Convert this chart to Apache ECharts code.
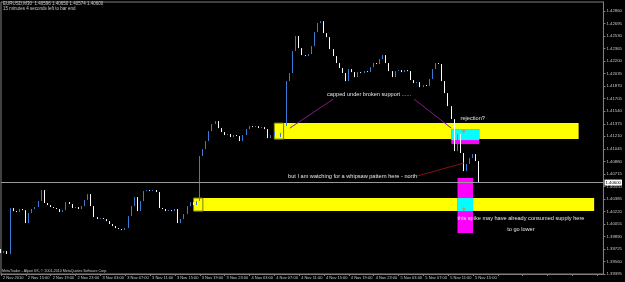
<!DOCTYPE html>
<html>
<head>
<meta charset="utf-8">
<script src="https://cdn.jsdelivr.net/npm/echarts@6/dist/echarts.min.js"></script>
<style>
html, body { margin: 0; padding: 0; background: #000; }
#main { width: 625px; height: 282px; }
</style>
</head>
<body>
<div id="main"></div>
<script>
// EURUSD M30, 2 - 5 Nov 2010 (MetaTrader screenshot)
var firstOpen = 1.39724;
var closes = [
  1.39671, 1.39697, 1.39658, 1.40264, 1.40224, 1.40211, 1.40251, 1.40237, 1.40066, 1.40198,
  1.40251, 1.40277, 1.40356, 1.40501, 1.40330, 1.40303, 1.40277, 1.40264, 1.40251, 1.40211,
  1.40237, 1.40343, 1.40317, 1.40264, 1.40277, 1.40251, 1.40290, 1.40369, 1.40448, 1.40290,
  1.40145, 1.40119, 1.40132, 1.40119, 1.40092, 1.40053, 1.40027, 1.40000, 1.39987, 1.39974,
  1.40000, 1.40158, 1.40290, 1.40409, 1.40224, 1.40356, 1.40488, 1.40501, 1.40488, 1.40501,
  1.40475, 1.40264, 1.40251, 1.40224, 1.40237, 1.40224, 1.40251, 1.40066, 1.40119, 1.40185,
  1.40290, 1.40343, 1.40303, 1.40356, 1.40949, 1.41041, 1.41147, 1.41278, 1.41371, 1.41410,
  1.41318, 1.41265, 1.41226, 1.41239, 1.41199, 1.41226, 1.41213, 1.41147, 1.41226, 1.41305,
  1.41344, 1.41331, 1.41344, 1.41318, 1.41331, 1.41305, 1.41186, 1.41226, 1.41278, 1.41199,
  1.41252, 1.41344, 1.41937, 1.42043, 1.42333, 1.42531, 1.42372, 1.42280, 1.42267, 1.42293,
  1.42399, 1.42583, 1.42702, 1.42728, 1.42570, 1.42517, 1.42359, 1.42267, 1.42175, 1.42109,
  1.42043, 1.41937, 1.42096, 1.42056, 1.41990, 1.42056, 1.42043, 1.42069, 1.42056, 1.42122,
  1.42175, 1.42162, 1.42227, 1.42280, 1.42175, 1.42069, 1.41990, 1.42069, 1.42082, 1.42056,
  1.42082, 1.42069, 1.41951, 1.41911, 1.41924, 1.41858, 1.41885, 1.41872, 1.41964, 1.42096,
  1.42175, 1.42162, 1.41937, 1.41779, 1.41608, 1.41437, 1.41015, 1.41239, 1.40989, 1.40751,
  1.40844, 1.40923, 1.40975, 1.40883, 1.40600
];
var xLabels = ['2 Nov 2010', '2 Nov 15:00', '2 Nov 19:00', '2 Nov 23:00', '3 Nov 03:00',
  '3 Nov 07:00', '3 Nov 11:00', '3 Nov 15:00', '3 Nov 19:00', '3 Nov 23:00', '4 Nov 03:00',
  '4 Nov 07:00', '4 Nov 11:00', '4 Nov 15:00', '4 Nov 19:00', '4 Nov 23:00', '5 Nov 03:00',
  '5 Nov 07:00', '5 Nov 11:00', '5 Nov 15:00'];
var barSlots = 195;   // bars that fit on screen (chart shift leaves room on the right)
var yMin = 1.39395, yStep = 0.00165, yMax = 1.4298;
var bid = 1.40600;

// drawn objects: [fromBar, toBar, priceTop, priceBottom]
var boxes = [
  [87.9, 186.0, 1.41384, 1.41173],
  [87.9, 91.1, 1.41384, 1.41173],
  [61.8, 190.8, 1.40396, 1.40224],
  [61.8, 65.0, 1.40396, 1.40224],
  [145.3, 153.6, 1.41305, 1.41107],
  [145.3, 153.6, 1.41305, 1.41160],
  [146.9, 152.0, 1.40659, 1.39934],
  [146.9, 152.0, 1.40396, 1.40224]
];
var boxColors = ['#ffff00', '#ffff00', '#ffff00', '#ffff00', '#ff00ff', '#00ffff', '#ff00ff', '#00ffff'];
var boxBorders = [null, '#808000', null, '#808000', null, null, null, null];

// trend lines: [fromBar, fromPrice, toBar, toPrice]
var lines = [
  [93.0, 1.41318, 107.0, 1.41700],
  [132.8, 1.41700, 145.3, 1.41318],
  [134.4, 1.40686, 149.4, 1.40857]
];
var lineColors = ['#8b1a8b', '#8b1a8b', '#8b1010'];

// text labels: [bar, price]
var notes = [[104.8, 1.41766], [147.8, 1.41450], [134.1, 1.40686], [147.2, 1.40132], [163.1, 1.39987]];
var noteTexts = ['capped under broken support ......', 'rejection?',
  'but I am watching for a whipsaw pattern here - north',
  'this spike may have already consumed supply here', 'to go lower'];
var noteAlign = ['left', 'left', 'right', 'left', 'left'];

var arrows = [[148.8, 1.41278], [148.8, 1.40251]];

var cats = [];
for (var i = 0; i < barSlots; i++) cats.push(String(i));

var candles = closes.map(function (c, i) {
  var o = i ? closes[i - 1] : firstOpen;
  return [o, c, Math.min(o, c), Math.max(o, c)];
});

var myChart = echarts.init(document.getElementById('main'));

var option = {
  backgroundColor: '#000',
  animation: false,
  graphic: [
    { type: 'text', left: 3, top: 1, style: { text: 'EURUSD,M30  1.40596 1.40650 1.40574 1.40600', fill: '#c8c8c8', font: '4.5px "Liberation Sans"' } },
    { type: 'text', left: 3, top: 6, style: { text: '15 minutes 4 seconds left to bar end', fill: '#c8c8c8', font: '4.5px "Liberation Sans"' } },
    { type: 'text', left: 2, top: 269, style: { text: 'MetaTrader - Alpari UK, \u00a9 2001-2010 MetaQuotes Software Corp.', fill: '#c8c8c8', font: '3.6px "Liberation Sans"' } }
  ],
  grid: {
    left: 1, right: 15, top: 2, bottom: 8,
    show: true, borderColor: '#808080', borderWidth: 1, backgroundColor: '#000'
  },
  xAxis: {
    type: 'category',
    data: cats,
    boundaryGap: false,
    axisLine: { lineStyle: { color: '#808080' } },
    axisTick: { interval: 7, length: 2, lineStyle: { color: '#808080' } },
    axisLabel: {
      interval: 7,
      formatter: function (v, idx) { return xLabels[idx / 8] || ''; },
      color: '#c8c8c8', fontSize: 4, fontFamily: 'Liberation Sans',
      align: 'left', margin: 2, padding: [0, 0, 0, 2]
    },
    splitLine: { show: false }
  },
  yAxis: {
    type: 'value',
    position: 'right',
    min: yMin, max: yMax, interval: yStep,
    axisLine: { show: true, lineStyle: { color: '#808080' } },
    axisTick: { show: true, length: 2, lineStyle: { color: '#808080' } },
    axisLabel: {
      color: '#c8c8c8', fontSize: 4.3, fontFamily: 'Liberation Sans', margin: 3,
      showMaxLabel: false, hideOverlap: false,
      formatter: function (v) { return v.toFixed(5); }
    },
    splitLine: { show: false }
  },
  series: [
    {
      // rectangles drawn on the chart
      type: 'custom',
      z: 1,
      silent: true,
      data: boxes,
      renderItem: function (params, api) {
        var a = api.coord([api.value(0), api.value(2)]);
        var b = api.coord([api.value(1), api.value(3)]);
        var k = params.dataIndex;
        return {
          type: 'rect',
          shape: { x: a[0], y: a[1], width: b[0] - a[0], height: b[1] - a[1] },
          style: { fill: boxColors[k], stroke: boxBorders[k] || null, lineWidth: 1 }
        };
      }
    },
    {
      type: 'candlestick',
      z: 3,
      barWidth: 1,
      data: candles,
      itemStyle: {
        color: '#3a7bd5', color0: '#ffffff',
        borderColor: '#3a7bd5', borderColor0: '#ffffff', borderWidth: 1
      },
      markLine: {
        silent: true,
        symbol: 'none',
        animation: false,
        data: [
          [
            {
              coord: [0, bid],
              lineStyle: { color: '#9a9a9a', width: 1, type: 'solid' },
              label: {
                show: true, position: 'end', distance: 1,
                formatter: bid.toFixed(5),
                backgroundColor: '#ffffff', color: '#000', fontSize: 4.3,
                fontFamily: 'Liberation Sans', padding: [1, 1]
              }
            },
            { coord: [barSlots - 1, bid] }
          ]
        ].concat(lines.map(function (l, k) {
          return [
            { coord: [l[0], l[1]], lineStyle: { color: lineColors[k], width: 1, type: 'solid' }, label: { show: false } },
            { coord: [l[2], l[3]] }
          ];
        }))
      },
      markPoint: {
        silent: true,
        symbol: 'diamond',
        symbolSize: 4,
        itemStyle: { color: '#b09a70' },
        label: { show: false },
        data: arrows.map(function (a) { return { coord: a }; })
      }
    },
    {
      // text labels
      type: 'custom',
      z: 4,
      silent: true,
      data: notes,
      renderItem: function (params, api) {
        var p = api.coord([api.value(0), api.value(1)]);
        var k = params.dataIndex;
        return {
          type: 'text',
          x: p[0], y: p[1],
          style: {
            text: noteTexts[k], fill: '#e6e6e6',
            font: '5.6px "Liberation Sans"',
            textAlign: noteAlign[k], textVerticalAlign: 'middle'
          }
        };
      }
    }
  ]
};

myChart.setOption(option);
</script>
</body>
</html>
